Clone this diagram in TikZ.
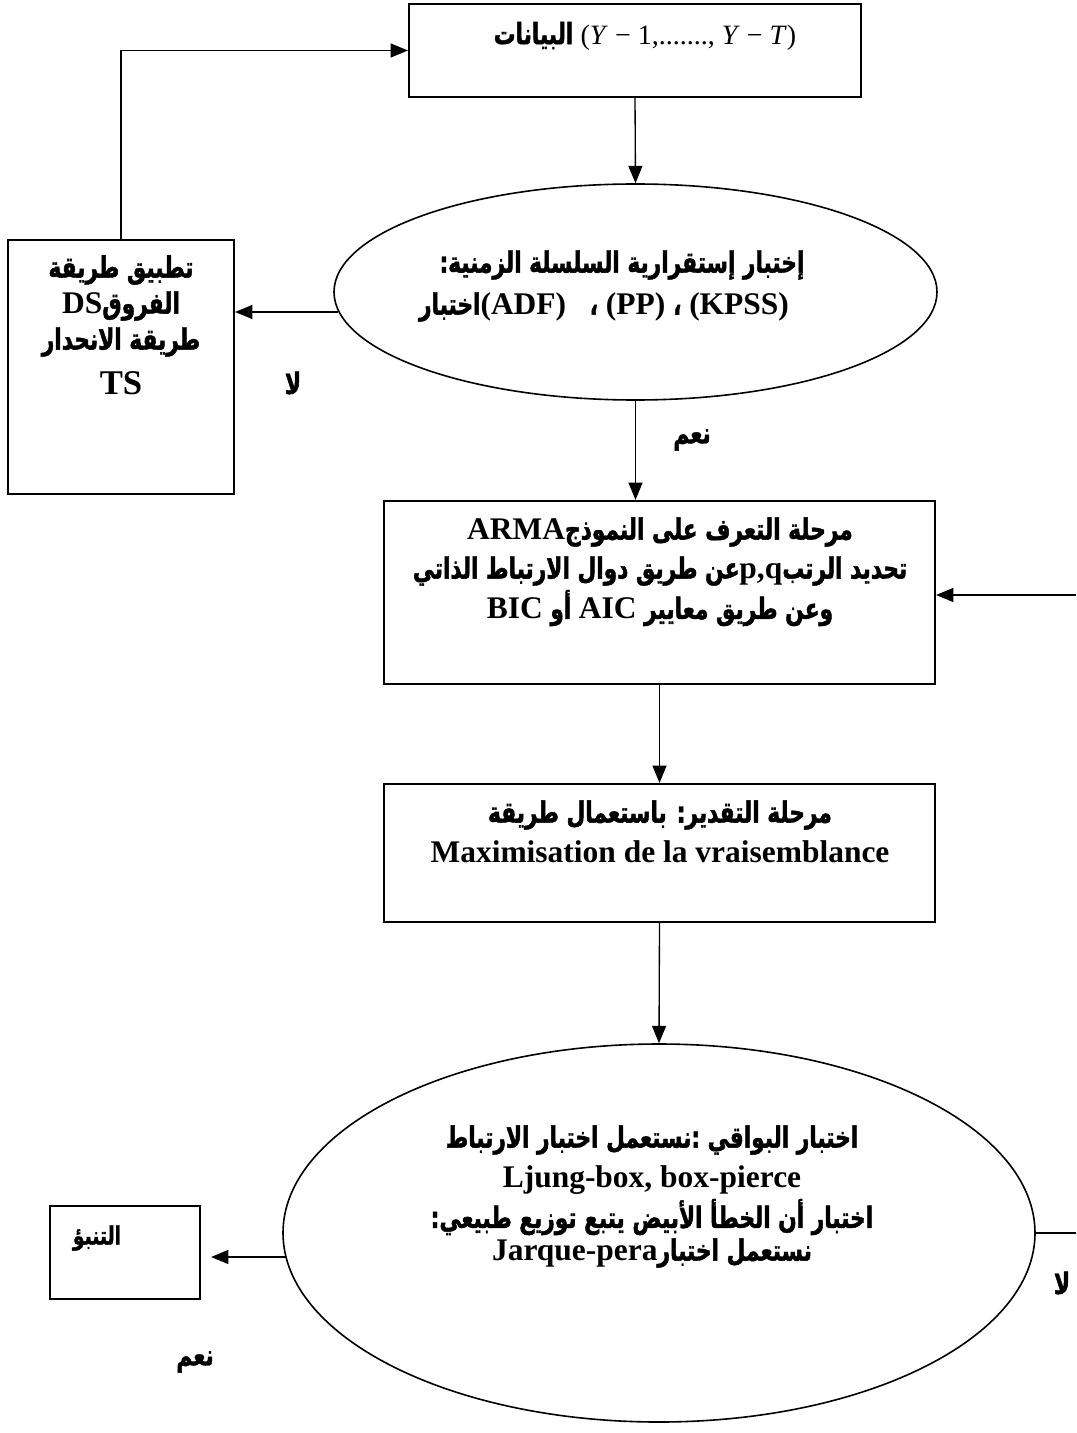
\documentclass[tikz,border=0pt]{standalone}
\usepackage{fontspec}
\setmainfont{Liberation Serif}
\newfontfamily\arabicfont[Script=Arabic,FakeStretch=0.74,BoldFeatures={FakeBold=1.5}]{DejaVu Sans}
\TeXXeTstate=1
\usetikzlibrary{arrows.meta,shapes.geometric}
\newcommand{\artxt}[1]{{\arabicfont\bfseries\beginR #1\endR}}
\newcommand{\lat}[1]{\beginL{\rmfamily\bfseries\fontsize{23.6pt}{28pt}\selectfont #1}\endL}
\tikzset{
  boxst/.style={draw, line width=1.6pt, rectangle, inner sep=0pt},
  ellst/.style={draw, line width=1.2pt, ellipse, inner sep=0pt},
  conn/.style={line width=1pt},
  arr/.style={conn, -{Triangle[length=13pt,width=10.5pt]}},
  txt/.style={inner sep=0pt, font=\fontsize{22pt}{26pt}\selectfont\bfseries},
  lattxt/.style={inner sep=0pt, font=\fontsize{23.6pt}{28pt}\selectfont\bfseries},
}
\begin{document}
\begin{tikzpicture}[x=0.75pt,y=-0.75pt]
\useasboundingbox (0,0) rectangle (1076,1433);
% boxes
\node[boxst, minimum width=452*0.75pt, minimum height=93*0.75pt] (top) at (635,50.5) {};
\node[ellst, minimum width=603*0.75pt, minimum height=216*0.75pt] (e1) at (635.5,292) {};
\node[boxst, minimum width=226*0.75pt, minimum height=254*0.75pt] (lb) at (121,367) {};
\node[boxst, minimum width=551*0.75pt, minimum height=183*0.75pt] (arma) at (659.5,592.5) {};
\node[boxst, minimum width=551*0.75pt, minimum height=138*0.75pt] (est) at (659.5,853) {};
\node[ellst, minimum width=752*0.75pt, minimum height=378*0.75pt] (e2) at (659,1233) {};
\node[boxst, minimum width=150*0.75pt, minimum height=93*0.75pt] (fc) at (125,1252.5) {};
% texts
\node[txt] (toptxt) at (645,36) {\artxt{البيانات}\ {\mdseries\fontsize{21pt}{24pt}\selectfont (\textit{Y} − 1,......., \textit{Y} − \textit{T})}};
\node[txt] (e1a) at (622,265) {\artxt{إختبار إستقرارية السلسلة الزمنية:}};
\node[txt] (e1b) at (604,307) {\artxt{اختبار}\lat{(ADF)\ \ \ }{\arabicfont ،}\lat{ (PP) }{\arabicfont ،}\lat{ (KPSS)}};
\node[txt] (lb1) at (121,270) {\artxt{تطبيق طريقة}};
\node[txt] (lb2) at (121,306) {\artxt{الفروق\lat{DS}}};
\node[txt] (lb3) at (121,342) {\artxt{طريقة الانحدار}};
\node[lattxt, font=\fontsize{26pt}{30pt}\selectfont\bfseries] (lb4) at (121,383) {TS};
\node[txt] (no1) at (293,383) {\artxt{لا}};
\node[txt] (yes1) at (692,440) {\artxt{نعم}};
\node[txt] (a1) at (660,532) {\artxt{مرحلة التعرف على النموذج\lat{ARMA}}};
\node[txt] (a2) at (660,571) {\artxt{تحديد الرتب\lat{p,q}عن طريق دوال الارتباط الذاتي}};
\node[txt] (a3) at (660,608) {\artxt{وعن طريق معايير \lat{AIC} أو \lat{BIC}}};
\node[txt] (s1) at (660,815) {\artxt{مرحلة التقدير: باستعمال طريقة}};
\node[lattxt] (s2) at (660,852) {Maximisation de la vraisemblance};
\node[txt] (r1) at (652,1140) {\artxt{اختبار البواقي :نستعمل اختبار الارتباط}};
\node[lattxt] (r2) at (652,1180) {Ljung-box, box-pierce};
\node[txt] (r3) at (652,1217) {\artxt{اختبار أن الخطأ الأبيض يتبع توزيع طبيعي:}};
\node[txt] (r4) at (652,1253) {\artxt{نستعمل اختبار\lat{Jarque-pera}}};
\node[txt, font=\fontsize{19pt}{22pt}\selectfont\bfseries] (fct) at (97,1238) {\artxt{التنبؤ}};
\node[txt] (yes2) at (195,1362) {\artxt{نعم}};
\node[txt] (no2) at (1062,1283) {\artxt{لا}};
% connectors
\coordinate (c1) at (338,312);
\coordinate (rin) at (1076,595);
\coordinate (c2) at (286,1257);
\coordinate (rout) at (1076,1233);
\draw[arr] (top.south) -- (e1.north);
\draw[arr] (c1) -- (c1 -| lb.east);
\draw[arr] (lb.north) |- (top.west);
\draw[arr] (e1.south) -- (e1.south |- arma.north);
\draw[arr] (rin) -- (rin -| arma.east);
\draw[arr] (arma.south) -- (est.north);
\draw[arr] (est.south) -- (e2.north);
\draw[arr, shorten >=10*0.75pt] (c2) -- (c2 -| fc.east);
\draw[conn] (e2.east) -- (rout);
\end{tikzpicture}
\end{document}
